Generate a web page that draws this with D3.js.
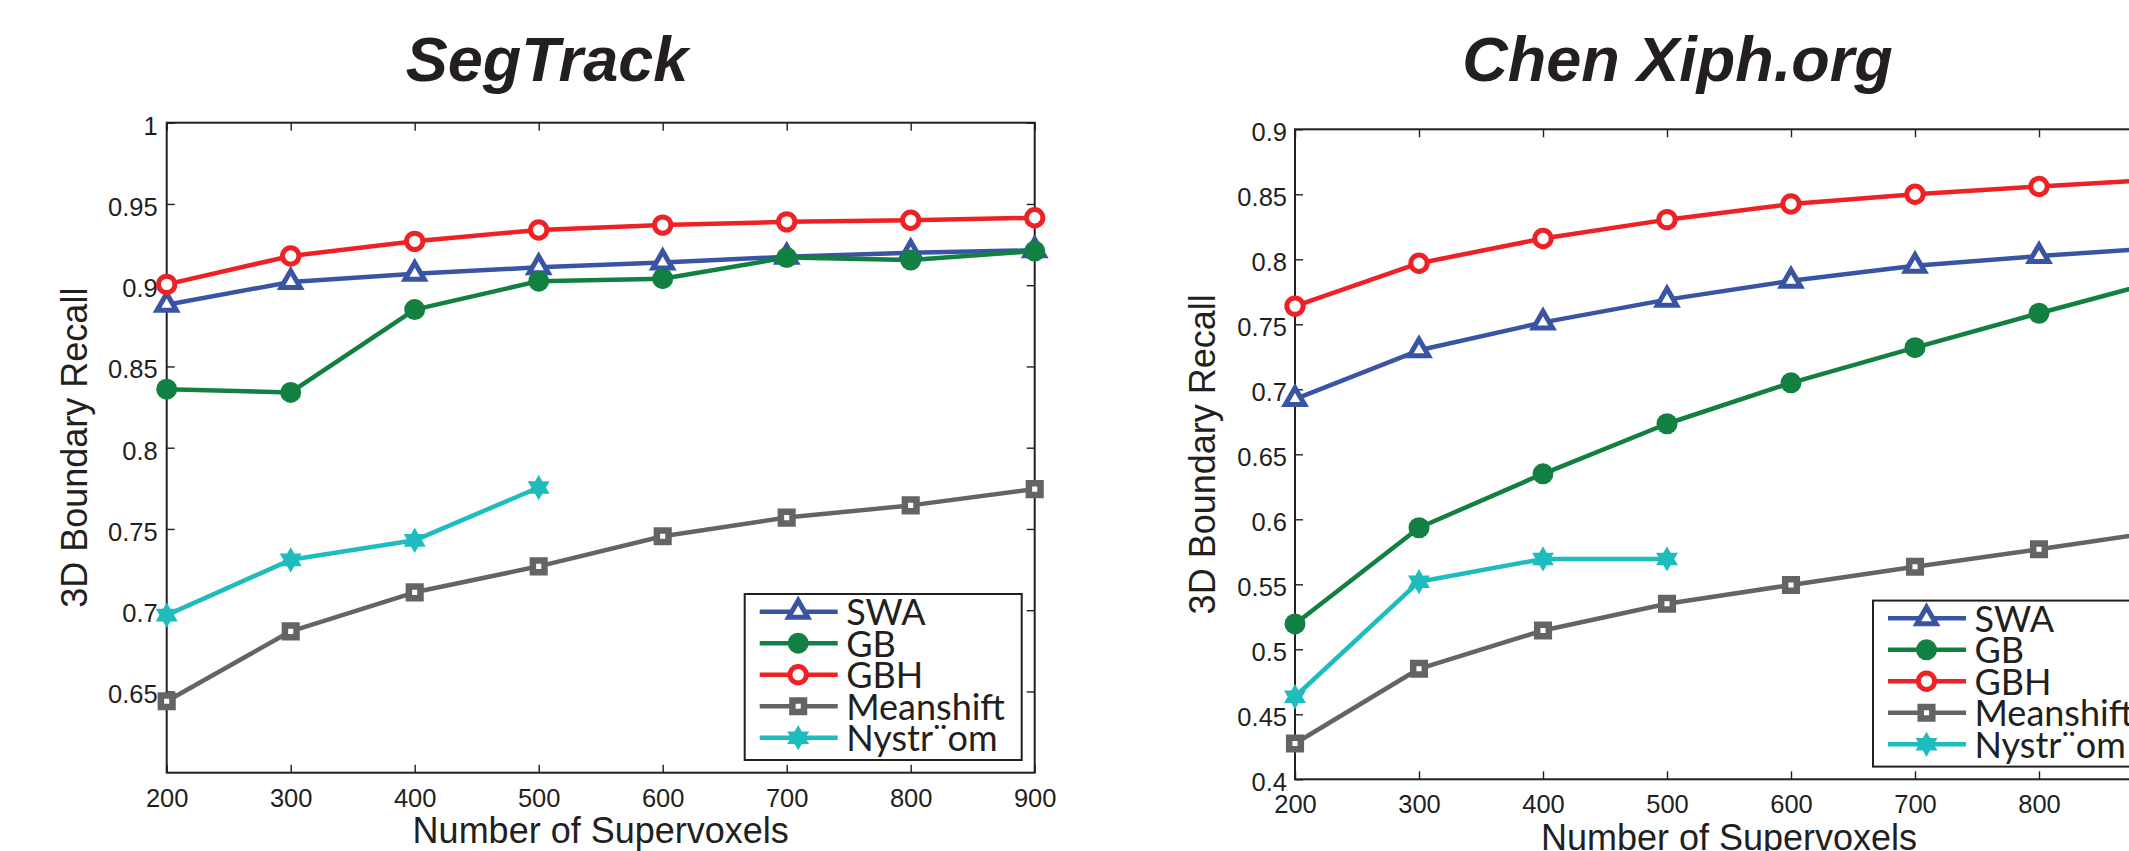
<!DOCTYPE html>
<html>
<head>
<meta charset="utf-8">
<script src="https://cdn.jsdelivr.net/npm/d3@7"></script>
<style>
  body { margin: 0; background: #fff; }
  svg { display: block; }
</style>
</head>
<body>
<script>
// data
var xValues = [200, 300, 400, 500, 600, 700, 800, 900];
var xTicks = [200, 300, 400, 500, 600, 700, 800, 900];
var seriesNames = ["SWA", "GB", "GBH", "Meanshift", "Nystr\u00A8om"];

var segYTicks = [0.65, 0.7, 0.75, 0.8, 0.85, 0.9, 0.95, 1];
var segSWA = [0.888, 0.902, 0.907, 0.911, 0.914, 0.9175, 0.920, 0.9215];
var segGB = [0.836, 0.834, 0.885, 0.9025, 0.904, 0.917, 0.9155, 0.921];
var segGBH = [0.9005, 0.918, 0.927, 0.934, 0.937, 0.939, 0.940, 0.9415];
var segMeanshift = [0.644, 0.687, 0.711, 0.727, 0.7455, 0.757, 0.7645, 0.7745];
var segNystrom = [0.697, 0.731, 0.743, 0.7755];

var chenYTicks = [0.4, 0.45, 0.5, 0.55, 0.6, 0.65, 0.7, 0.75, 0.8, 0.85, 0.9];
var chenSWA = [0.6925, 0.730, 0.7515, 0.769, 0.7835, 0.795, 0.8025, 0.809];
var chenGB = [0.5195, 0.5935, 0.635, 0.6735, 0.705, 0.732, 0.7585, 0.784];
var chenGBH = [0.764, 0.797, 0.816, 0.8305, 0.8425, 0.85, 0.856, 0.8615];
var chenMeanshift = [0.4275, 0.485, 0.5145, 0.535, 0.5495, 0.5635, 0.577, 0.591];
var chenNystrom = [0.4635, 0.552, 0.5695, 0.5695];

var colors = ["#3a54a4", "#118041", "#ee2125", "#646465", "#1fbcbd"];
var ink = "#231f20";

// hexagram marker for Nystrom
var hexagram = {
  draw: function(ctx, size) {
    var R = Math.sqrt(size), r = R / Math.sqrt(3);
    for (var i = 0; i < 12; i++) {
      var a = -Math.PI / 2 + i * Math.PI / 6;
      var rr = i % 2 === 0 ? R : r;
      if (i === 0) ctx.moveTo(rr * Math.cos(a), rr * Math.sin(a));
      else ctx.lineTo(rr * Math.cos(a), rr * Math.sin(a));
    }
    ctx.closePath();
  }
};

var markers = [
  {type: d3.symbolTriangle, size: 160, fill: "#fff", sw: 5},
  {type: d3.symbolCircle, size: 346, fill: "c", sw: 0},
  {type: d3.symbolCircle, size: 211, fill: "#fff", sw: 5},
  {type: d3.symbolSquare, size: 135, fill: "#fff", sw: 6.5},
  {type: hexagram, size: 160, fill: "c", sw: 0}
];

var svg = d3.select("body").append("svg")
  .attr("width", 2129)
  .attr("height", 851);

svg.append("rect").attr("width", 2129).attr("height", 851).attr("fill", "#fff");

function drawMarker(g, i, cx, cy) {
  var m = markers[i];
  g.append("path")
    .attr("d", d3.symbol().type(m.type).size(m.size)())
    .attr("transform", `translate(${cx},${cy})`)
    .attr("fill", m.fill === "c" ? colors[i] : m.fill)
    .attr("stroke", colors[i])
    .attr("stroke-width", m.sw)
    .attr("stroke-linejoin", "miter");
}

function drawPanel(p) {
  var width = 868, height = 650;
  var x = d3.scaleLinear().domain([200, 900]).range([p.left, p.left + width]);
  var y = d3.scaleLinear().domain(p.yDomain).range([p.top + height, p.top]);

  var g = svg.append("g");

  // title
  g.append("text")
    .attr("x", p.titleX)
    .attr("y", 81)
    .attr("text-anchor", "middle")
    .attr("font-family", "'Liberation Sans', Arial, sans-serif")
    .attr("font-weight", "bold")
    .attr("font-style", "italic")
    .attr("font-size", 63)
    .attr("fill", ink)
    .text(p.title);

  // axes
  var bottom = g.append("g")
    .attr("transform", `translate(0,${p.top + height})`)
    .call(d3.axisBottom(x).tickValues(xTicks).tickSizeInner(-8).tickSizeOuter(0).tickPadding(16));
  var top = g.append("g")
    .attr("transform", `translate(0,${p.top})`)
    .call(d3.axisTop(x).tickValues(xTicks).tickSizeInner(-8).tickSizeOuter(0).tickFormat(""));
  var left = g.append("g")
    .attr("transform", `translate(${p.left},0)`)
    .call(d3.axisLeft(y).tickValues(p.yTicks).tickSizeInner(-8).tickSizeOuter(0).tickPadding(p.yPad).tickFormat(d => String(+d.toFixed(2))));
  var right = g.append("g")
    .attr("transform", `translate(${p.left + width},0)`)
    .call(d3.axisRight(y).tickValues(p.yTicks).tickSizeInner(-8).tickSizeOuter(0).tickFormat(""));

  [bottom, top, left, right].forEach(function(a) {
    a.select(".domain").remove();
    a.selectAll(".tick line").attr("stroke", ink).attr("stroke-width", 1.4);
    a.selectAll("text")
      .attr("font-family", "'Liberation Sans', Arial, sans-serif")
      .attr("font-size", 25.5)
      .attr("fill", ink);
  });
  left.selectAll("text").attr("dy", "0.45em");

  g.append("rect")
    .attr("x", p.left).attr("y", p.top)
    .attr("width", width).attr("height", height)
    .attr("fill", "none")
    .attr("stroke", ink)
    .attr("stroke-width", 2);

  // axis titles
  g.append("text")
    .attr("x", p.left + width / 2)
    .attr("y", p.top + height + 70.5)
    .attr("text-anchor", "middle")
    .attr("font-family", "'Liberation Sans', Arial, sans-serif")
    .attr("font-size", 36)
    .attr("fill", ink)
    .text("Number of Supervoxels");
  g.append("text")
    .attr("transform", `translate(${p.left - 80},${p.top + height / 2}) rotate(-90)`)
    .attr("text-anchor", "middle")
    .attr("font-family", "'Liberation Sans', Arial, sans-serif")
    .attr("font-size", 36)
    .attr("fill", ink)
    .text("3D Boundary Recall");

  // series
  var line = d3.line().x((d, i) => x(xValues[i])).y(d => y(d));
  p.series.forEach(function(vals, i) {
    var sg = g.append("g");
    sg.append("path")
      .attr("d", line(vals))
      .attr("fill", "none")
      .attr("stroke", colors[i])
      .attr("stroke-width", 4.5)
      .attr("stroke-linejoin", "round");
    vals.forEach(function(v, j) {
      drawMarker(sg, i, x(xValues[j]), y(v));
    });
  });

  // legend
  var lw = 277, lh = 166;
  var lx = p.left + width - 13 - lw;
  var ly = p.top + height - 12.7 - lh;
  var lg = g.append("g").attr("transform", `translate(${lx},${ly})`);
  lg.append("rect")
    .attr("width", lw).attr("height", lh)
    .attr("fill", "#fff")
    .attr("stroke", ink)
    .attr("stroke-width", 2);
  seriesNames.forEach(function(name, i) {
    var ry = 17.7 + i * 31.5;
    lg.append("line")
      .attr("x1", 15).attr("x2", 93)
      .attr("y1", ry).attr("y2", ry)
      .attr("stroke", colors[i])
      .attr("stroke-width", 4.5);
    drawMarker(lg, i, 53.5, ry);
    lg.append("text")
      .attr("x", 101.5)
      .attr("y", ry + 13.3)
      .attr("font-family", "Lato, 'Noto Sans', sans-serif")
      .attr("font-size", 36)
      .attr("fill", ink)
      .text(name);
  });
}

drawPanel({
  title: "SegTrack", titleX: 547,
  left: 166.7, top: 122.7, yDomain: [0.6, 1], yTicks: segYTicks, yPad: 9,
  series: [segSWA, segGB, segGBH, segMeanshift, segNystrom]
});

drawPanel({
  title: "Chen Xiph.org", titleX: 1677.5,
  left: 1295, top: 129.3, yDomain: [0.4, 0.9], yTicks: chenYTicks, yPad: 8,
  series: [chenSWA, chenGB, chenGBH, chenMeanshift, chenNystrom]
});
</script>
</body>
</html>
